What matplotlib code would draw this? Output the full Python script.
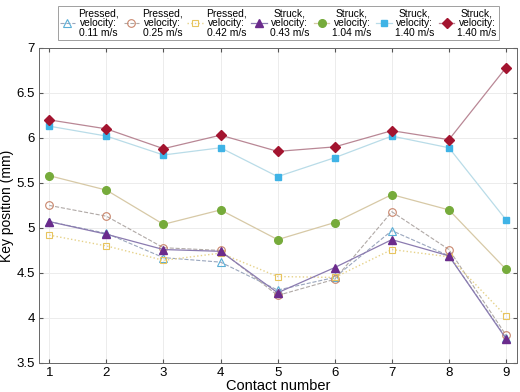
import matplotlib
matplotlib.use("Agg")
import matplotlib.pyplot as plt

plt.rcParams["font.family"] = ["Liberation Sans", "DejaVu Sans"]

# ── DATA ────────────────────────────────────────────────
contacts = [1, 2, 3, 4, 5, 6, 7, 8, 9]

pressed_011 = [5.07, 4.94, 4.67, 4.62, 4.31, 4.45, 4.97, 4.69, 3.78]
pressed_025 = [5.25, 5.13, 4.78, 4.75, 4.25, 4.43, 5.18, 4.76, 3.81]
pressed_042 = [4.92, 4.80, 4.64, 4.72, 4.46, 4.45, 4.76, 4.68, 4.02]
struck_043 = [5.07, 4.93, 4.76, 4.74, 4.28, 4.56, 4.87, 4.69, 3.77]
struck_104 = [5.58, 5.42, 5.04, 5.20, 4.87, 5.06, 5.37, 5.20, 4.54]
struck_140a = [6.13, 6.02, 5.81, 5.89, 5.57, 5.78, 6.02, 5.89, 5.09]
struck_140b = [6.20, 6.10, 5.88, 6.03, 5.85, 5.90, 6.08, 5.98, 6.78]

labels = [
    "Pressed,\nvelocity:\n0.11 m/s",
    "Pressed,\nvelocity:\n0.25 m/s",
    "Pressed,\nvelocity:\n0.42 m/s",
    "Struck,\nvelocity:\n0.43 m/s",
    "Struck,\nvelocity:\n1.04 m/s",
    "Struck,\nvelocity:\n1.40 m/s",
    "Struck,\nvelocity:\n1.40 m/s",
]

# ── PLOT ────────────────────────────────────────────────
fig = plt.figure(figsize=(5.2, 3.92), dpi=100)
ax = fig.add_axes([0.075, 0.074, 0.919, 0.804])

ax.plot(contacts, pressed_011, ls="--", lw=0.8, color="#9aa6bd",
        marker="^", ms=5.5, mfc="none", mec="#5aaed6", mew=0.8, label=labels[0])
ax.plot(contacts, pressed_025, ls="--", lw=0.8, color="#b0a9a6",
        marker="o", ms=5.5, mfc="none", mec="#c9866c", mew=0.8, label=labels[1])
ax.plot(contacts, pressed_042, ls=":", lw=1.0, color="#e6d28a",
        marker="s", ms=5, mfc="none", mec="#e7c45e", mew=0.8, label=labels[2])
ax.plot(contacts, struck_043, ls="-", lw=0.9, color="#8b7bb0",
        marker="^", ms=5.5, mfc="#6b2b8c", mec="#6b2b8c", label=labels[3])
ax.plot(contacts, struck_104, ls="-", lw=0.9, color="#d7c9a6",
        marker="o", ms=5.5, mfc="#76ab3b", mec="#76ab3b", label=labels[4])
ax.plot(contacts, struck_140a, ls="-", lw=0.9, color="#b9dce8",
        marker="s", ms=4.8, mfc="#3fb3e6", mec="#3fb3e6", label=labels[5])
ax.plot(contacts, struck_140b, ls="-", lw=0.9, color="#b98795",
        marker="D", ms=4.8, mfc="#a3142f", mec="#a3142f", label=labels[6])

ax.set_xlim(0.82, 9.19)
ax.set_ylim(3.5, 7)
ax.set_xticks(contacts)
ax.set_yticks([3.5, 4, 4.5, 5, 5.5, 6, 6.5, 7])
ax.set_yticklabels(["3.5", "4", "4.5", "5", "5.5", "6", "6.5", "7"])
ax.grid(True, color="#ececec", lw=0.7)
ax.set_axisbelow(True)
ax.tick_params(direction="in", length=3, labelsize=9.5, top=True, right=True,
               color="#555555", pad=3)
for sp in ax.spines.values():
    sp.set_color("#666666")
    sp.set_linewidth(0.7)

ax.set_xlabel("Contact number", fontsize=10.5, labelpad=0)
ax.set_ylabel("Key position (mm)", fontsize=10, labelpad=2)

leg = fig.legend(loc="upper center", bbox_to_anchor=(0.535, 0.997), ncol=7,
                 fontsize=7.4, handlelength=1.5, handletextpad=0.3,
                 columnspacing=0.45, borderpad=0.2, frameon=True,
                 fancybox=False, edgecolor="#888888")
leg.get_frame().set_linewidth(0.7)
for t in leg.get_texts():
    t.set_multialignment("center")
    t.set_linespacing(0.95)

fig.savefig("out.png", dpi=100)
